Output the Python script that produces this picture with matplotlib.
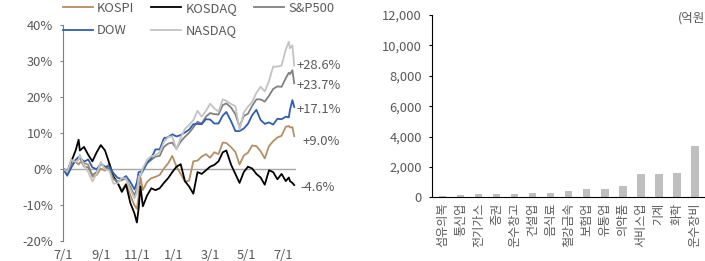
import numpy as np
import pandas as pd
import matplotlib
matplotlib.use('Agg')
import matplotlib.pyplot as plt
from matplotlib.lines import Line2D

plt.rcParams['font.family'] = ['Noto Sans CJK KR', 'DejaVu Sans']
TXT = '#595959'

# ---- left panel data: cumulative return since 2023-06-30 (%) ----
dates = pd.to_datetime([
    '2023-06-30', '2023-07-07', '2023-07-14', '2023-07-21', '2023-07-26', '2023-07-28',
    '2023-08-04', '2023-08-11', '2023-08-18', '2023-08-25', '2023-09-01', '2023-09-08',
    '2023-09-15', '2023-09-22', '2023-09-29', '2023-10-06', '2023-10-13', '2023-10-20',
    '2023-10-27', '2023-10-31', '2023-11-03', '2023-11-06', '2023-11-10', '2023-11-17',
    '2023-11-24', '2023-12-01', '2023-12-08', '2023-12-15', '2023-12-22', '2023-12-29',
    '2024-01-05', '2024-01-12', '2024-01-19', '2024-01-26', '2024-02-02', '2024-02-09',
    '2024-02-16', '2024-02-23', '2024-03-01', '2024-03-08', '2024-03-15', '2024-03-22',
    '2024-03-28', '2024-04-05', '2024-04-12', '2024-04-19', '2024-04-26', '2024-05-03',
    '2024-05-10', '2024-05-17', '2024-05-24', '2024-05-31', '2024-06-07', '2024-06-14',
    '2024-06-21', '2024-06-28', '2024-07-05', '2024-07-10', '2024-07-12', '2024-07-16',
    '2024-07-19'])

kospi = [0, -1.5, 2.5, 1.8, 1.1, 1.7, 1.5, 1.1, -2.3, -1.8, 0.0, -0.6,
         1.4, -2.2, -3.9, -6.1, -4.2, -7.4, -10.2, -11.2, -7.6, -2.4, -6.0, -3.7,
         -2.7, -2.3, -1.8, 0.0, 1.4, 3.5, 0.5, -1.5, -3.6, -3.4, 2.0, 2.2,
         3.3, 4.0, 3.0, 4.5, 4.0, 7.2, 7.1, 5.9, 4.6, 1.1, 3.6, 4.4,
         6.4, 6.2, 4.8, 2.8, 6.2, 7.6, 8.6, 9.1, 11.6, 11.8, 11.4, 11.5,
         9.0]
kosdaq = [0, -0.8, 2.0, 5.0, 8.0, 5.0, 6.0, 3.8, 2.0, 4.5, 6.5, 5.0,
          1.5, -2.3, -4.0, -6.5, -4.5, -9.5, -12.5, -15.0, -11.0, -5.0, -10.5, -7.5,
          -5.5, -6.0, -5.5, -4.0, -2.7, -1.0, 0.5, 1.2, -3.5, -5.0, -7.0, -1.0,
          -1.5, -0.5, 0.5, 1.0, 2.0, 4.5, 5.0, 1.0, -1.5, -4.0, -1.0, 0.5,
          0.0, -1.5, -2.5, -4.5, -0.5, -1.0, -3.0, -1.5, -3.5, -2.5, -3.5, -4.0,
          -4.6]
sp500 = [0, -1.1, 1.2, 1.9, 2.6, 3.0, 0.6, 0.3, -1.8, -1.0, 1.5, 0.2,
         0.0, -2.9, -3.6, -3.2, -2.8, -5.1, -7.5, -5.6, -2.1, -1.9, -0.8, 1.4,
         2.4, 3.3, 3.5, 6.0, 6.9, 7.2, 5.5, 7.5, 8.8, 9.9, 11.4, 13.0,
         12.5, 14.4, 15.4, 15.1, 15.0, 17.6, 18.1, 16.9, 15.1, 11.6, 14.6, 15.2,
         17.4, 19.2, 19.2, 18.6, 20.2, 22.1, 22.8, 22.7, 25.1, 26.6, 26.2, 27.3,
         23.7]
dow = [0, -2.0, 0.3, 2.4, 3.2, 3.1, 1.9, 2.5, 0.3, -0.2, 1.3, 0.5,
       0.6, -1.3, -2.6, -2.9, -2.1, -3.7, -5.8, -3.9, -1.0, -0.9, -0.4, 1.6,
       2.9, 5.3, 5.3, 8.4, 8.7, 9.5, 8.9, 9.3, 10.0, 10.8, 12.3, 12.4,
       12.3, 13.7, 13.6, 12.5, 12.5, 14.7, 15.7, 13.1, 10.4, 10.4, 11.1, 12.4,
       14.8, 16.3, 13.5, 12.4, 12.8, 12.2, 13.8, 13.7, 14.4, 14.2, 16.3, 19.0,
       17.1]
nasdaq = [0, -0.9, 2.4, 1.8, 2.5, 3.8, 0.9, -1.0, -3.6, -1.4, 1.8, -0.2,
          -0.6, -4.2, -4.1, -2.6, -2.8, -5.8, -8.3, -6.8, -2.2, -2.0, 0.1, 2.4,
          3.4, 3.7, 4.5, 7.4, 8.7, 8.9, 5.3, 8.6, 11.0, 12.1, 13.4, 16.0,
          14.4, 16.0, 18.0, 16.7, 15.8, 19.2, 18.8, 17.9, 17.3, 10.8, 15.5, 17.2,
          18.5, 21.0, 22.7, 21.4, 24.3, 28.3, 28.3, 28.6, 33.1, 35.2, 33.4, 34.2,
          28.6]

# ---- right panel data (억원) ----
sectors = ['섬유의복', '통신업', '전기가스', '증권', '운수창고', '건설업', '음식료',
           '철강금속', '보험업', '유통업', '의약품', '서비스업', '기계', '화학', '운수장비']
amounts = [110, 150, 195, 215, 240, 280, 300, 390, 520, 540, 740, 1520, 1520, 1630, 3370]

fig = plt.figure(figsize=(7.05, 2.61), dpi=100)

# left: index returns
ax = fig.add_axes([63/705, 1-240.5/261, 233/705, 216/261])
ax.axhline(0, color='#A6A6A6', lw=1.0, zorder=1)
series = [('KOSPI', kospi, '#B38F63'), ('KOSDAQ', kosdaq, '#000000'),
          ('S&P500', sp500, '#808080'), ('DOW', dow, '#2F5DB0'),
          ('NASDAQ', nasdaq, '#C3C3C3')]
lines = {}
for name, vals, col in series:
    lines[name], = ax.plot(dates, vals, color=col, lw=1.3, zorder=2)

ax.set_ylim(-20, 40)
ax.set_yticks(range(-20, 41, 10))
ax.set_yticklabels([f'{v}%' for v in range(-20, 41, 10)])
ax.set_xlim(pd.Timestamp('2023-06-30'), pd.Timestamp('2024-07-22'))
xt = pd.to_datetime(['2023-07-01', '2023-09-01', '2023-11-01', '2024-01-01',
                     '2024-03-01', '2024-05-01', '2024-07-01'])
ax.set_xticks(xt)
ax.set_xticklabels([f'{d.month}/{d.day}' for d in xt])
for s in ['top', 'right', 'bottom']:
    ax.spines[s].set_visible(False)
ax.spines['left'].set_color('#808080')
ax.tick_params(axis='y', length=2.4, color='#808080', pad=4.8, labelsize=9.3, labelcolor=TXT)
ax.tick_params(axis='x', length=0, pad=6, labelsize=9.3, labelcolor=TXT)

ends = [('+28.6%', nasdaq[-1], 1.5, 0), ('+23.7%', sp500[-1], 1.5, -1.9),
        ('+17.1%', dow[-1], 1.5, -2.2), ('+9.0%', kospi[-1], 6, -3.9),
        ('-4.6%', kosdaq[-1], 4.3, -1.4)]
for txt, v, dx, dy in ends:
    ax.annotate(txt, xy=(dates[-1], v), xytext=(dx, dy), textcoords='offset points',
                ha='left', va='center', fontsize=9.3, color=TXT, annotation_clip=False)

order = ['KOSPI', 'DOW', 'KOSDAQ', 'NASDAQ', 'S&P500']
fig.legend([lines[k] for k in order], order, ncol=3, loc='upper left',
           bbox_to_anchor=(63/705, 1-2/261), frameon=False, fontsize=9.3,
           labelcolor=TXT, handlelength=2.3, handletextpad=0.35,
           columnspacing=1.3, labelspacing=0.7, borderpad=0, borderaxespad=0)

# right: bar chart
ax2 = fig.add_axes([432/705, 1-197.3/261, 273/705, 182.3/261])
ax2.bar(range(len(sectors)), amounts, width=0.4, color='#BFBFBF')
ax2.set_xlim(-0.59, 14.55)
ax2.set_ylim(0, 12000)
ax2.set_yticks(range(0, 12001, 2000))
ax2.set_yticklabels([f'{v:,}' for v in range(0, 12001, 2000)])
ax2.set_xticks(range(len(sectors)))
ax2.set_xticklabels(sectors, rotation=90, va='top', ha='center')
for s in ['top', 'right']:
    ax2.spines[s].set_visible(False)
ax2.tick_params(axis='y', length=2.2, pad=5, labelsize=9.3, labelcolor=TXT)
ax2.tick_params(axis='x', length=0, pad=4, labelsize=8.7, labelcolor=TXT)
fig.text(678/705, 1-18/261, '(억원)', ha='left', va='center', fontsize=9, color=TXT)

fig.savefig('out.png', dpi=100)
